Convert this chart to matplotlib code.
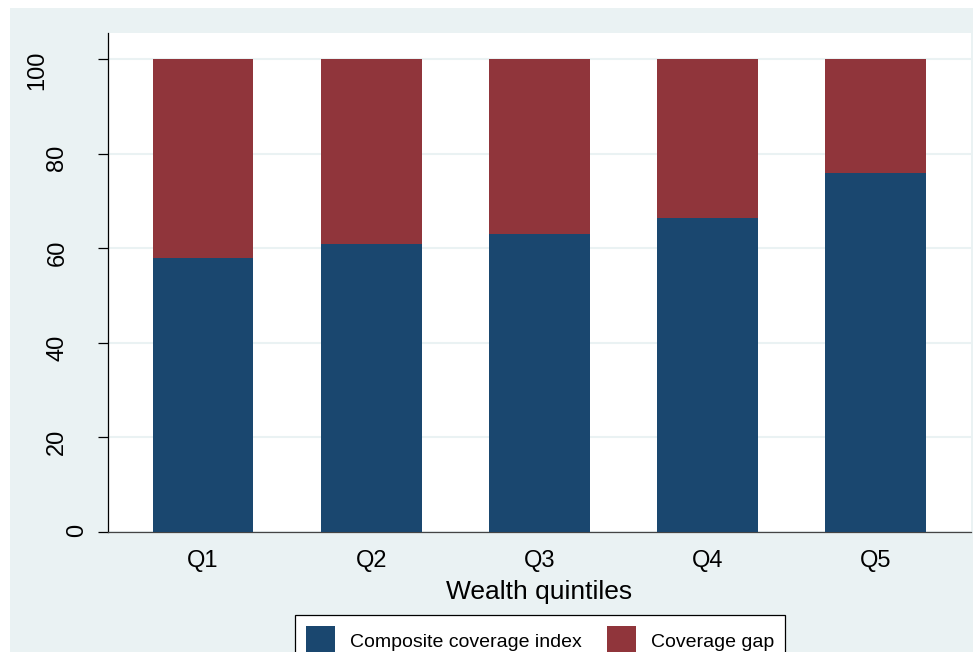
import matplotlib
matplotlib.use("Agg")
import matplotlib.pyplot as plt
from matplotlib.patches import Rectangle
from matplotlib.transforms import ScaledTranslation

categories = ["Q1", "Q2", "Q3", "Q4", "Q5"]
coverage = [57.9, 60.9, 63.0, 66.4, 75.8]
gap = [42.1, 39.1, 37.0, 33.6, 24.2]
yticks = [0, 20, 40, 60, 80, 100]
ytick_labels = ["0", "20", "40", "60", "80", "100"]

BG = "#EAF2F3"
BLUE = "#1A476F"
RED = "#90353B"

plt.rcParams["font.family"] = ["Liberation Sans", "DejaVu Sans"]

W, H = 973, 652
fig = plt.figure(figsize=(W / 100, H / 100), dpi=100)
fig.patch.set_facecolor("white")
fig.add_artist(Rectangle((10 / W, 0), 1 - 10 / W, (H - 8) / H,
                         transform=fig.transFigure, facecolor=BG,
                         edgecolor="none", zorder=-10))

ax = fig.add_axes([108 / W, (H - 532) / H, (971 - 108) / W, (532 - 33) / H])
ax.set_facecolor("white")

x = range(len(categories))
ax.bar(x, coverage, width=0.6, color=BLUE, label="Composite coverage index", zorder=3)
ax.bar(x, gap, width=0.6, bottom=coverage, color=RED, label="Coverage gap", zorder=3)

ax.set_xlim(-0.565, 4.567)
ax.set_ylim(0, 105.5)
ax.set_xticks(list(x))
ax.set_xticklabels(categories, fontsize=17)
ax.set_yticks(yticks)
ax.set_yticklabels(ytick_labels, fontsize=17, rotation=90)

ax.yaxis.grid(True, color=BG, linewidth=1.5, zorder=0)
ax.set_axisbelow(True)

for s in ["top", "right"]:
    ax.spines[s].set_visible(False)
ax.spines["left"].set_color("black")
ax.spines["left"].set_linewidth(0.9)
ax.spines["bottom"].set_color("#444444")
ax.spines["bottom"].set_linewidth(0.9)

ax.tick_params(axis="x", length=0, pad=13)
ax.tick_params(axis="y", length=7.2, width=0.9, pad=7.0)

# Stata-style shift of rotated labels by their length
for lbl, txt in zip(ax.get_yticklabels(), ytick_labels):
    dx = -(len(txt) - 1) * 20.0 / 100
    lbl.set_transform(lbl.get_transform() + ScaledTranslation(dx, 0, fig.dpi_scale_trans))

ax.set_xlabel("Wealth quintiles", fontsize=19, labelpad=6)

leg = fig.legend(loc="upper center", bbox_to_anchor=(540 / W, (H - 615) / H),
                 ncol=2, fontsize=14, frameon=True, fancybox=False,
                 edgecolor="black", facecolor="white", framealpha=1,
                 handlelength=1.5, handleheight=2.0, handletextpad=0.75,
                 columnspacing=1.3, borderpad=0.55, borderaxespad=0)
leg.get_frame().set_linewidth(0.9)

fig.savefig("out.png", dpi=100, facecolor=fig.get_facecolor())
